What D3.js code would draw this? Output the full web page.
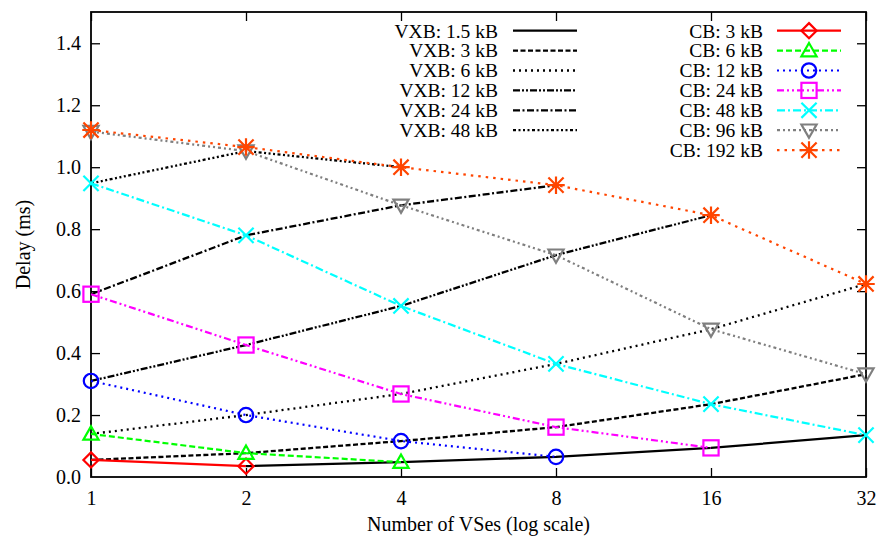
<!DOCTYPE html>
<html>
<head>
<meta charset="utf-8">
<script src="https://cdn.jsdelivr.net/npm/d3@7"></script>
<style>
  html, body { margin: 0; padding: 0; background: #fff; }
  svg { display: block; }
  text { font-family: "Liberation Serif", "Times New Roman", serif; fill: #000; }
</style>
</head>
<body>
<svg id="chart" width="879" height="540"></svg>
<script>
// Number of VSes (x axis, log2)
const vses = [1, 2, 4, 8, 16, 32];
const xTickValues = [1, 2, 4, 8, 16, 32];
const yTickValues = [0, 0.2, 0.4, 0.6, 0.8, 1.0, 1.2, 1.4];

// VXB delay (ms) per VS count; null = not measured
const vxbNames = ["VXB: 1.5 kB", "VXB: 3 kB", "VXB: 6 kB", "VXB: 12 kB", "VXB: 24 kB", "VXB: 48 kB"];
const vxb1_5 = [null, 0.035, 0.048, 0.065, 0.094, 0.135];
const vxb3   = [0.055, 0.077, 0.116, 0.161, 0.235, 0.332];
const vxb6   = [0.139, 0.200, 0.268, 0.365, 0.477, 0.623];
const vxb12  = [0.310, 0.426, 0.552, 0.716, 0.845, null];
const vxb24  = [0.590, 0.780, 0.877, 0.942, null, null];
const vxb48  = [0.948, 1.052, 1.000, null, null, null];

// CB delay (ms) per VS count
const cbNames = ["CB: 3 kB", "CB: 6 kB", "CB: 12 kB", "CB: 24 kB", "CB: 48 kB", "CB: 96 kB", "CB: 192 kB"];
const cb3   = [0.055, 0.035, null, null, null, null];
const cb6   = [0.139, 0.077, 0.048, null, null, null];
const cb12  = [0.310, 0.200, 0.116, 0.065, null, null];
const cb24  = [0.590, 0.426, 0.268, 0.161, 0.094, null];
const cb48  = [0.948, 0.780, 0.552, 0.365, 0.235, 0.135];
const cb96  = [1.115, 1.052, 0.877, 0.716, 0.477, 0.332];
const cb192 = [1.120, 1.065, 1.000, 0.942, 0.845, 0.623];

const vxbValues = [vxb1_5, vxb3, vxb6, vxb12, vxb24, vxb48];
const cbValues = [cb3, cb6, cb12, cb24, cb48, cb96, cb192];

// Line styles
const vxbDash = [null, "5,2.5", "2,4", "7,2,2,2,2,2", "7,2.5,2,2.5", "3,2.5,2,2.5,2,2.5,2,2.5"];
const cbColor = ["#ff0000", "#00ff00", "#0000ff", "#ff00ff", "#00ffff", "#7f7f7f", "#ff4500"];
const cbDash  = [null, "6,3", "2,4", "7,3,2,3,2,3", "8,3,2,3", "3,3,2,3,2,3", "2.5,5"];
const cbMarker = ["diamond", "triangle", "circle", "square", "cross", "triangleDown", "asterisk"];

const margin = { left: 91, right: 13, top: 12, bottom: 63 };
const W = 879, H = 540;
const svg = d3.select("#chart");

const x = d3.scaleLog().base(2).domain([1, 32]).range([margin.left, W - margin.right]);
const y = d3.scaleLinear().domain([0, 1.5]).range([H - margin.bottom, margin.top + 0.3]);

const x0 = x.range()[0], x1 = x.range()[1];
const y0 = y.range()[0], y1 = y.range()[1] - 0.3;
const FS = 19.5;
const FS_AX = 20;
const tickLen = 9;

// Axes (ticks inward, mirrored on opposite sides)
const gx = svg.append("g").attr("transform", `translate(0,${y0})`)
  .call(d3.axisBottom(x).tickValues(xTickValues).tickFormat(d3.format("d")).tickSize(-tickLen).tickPadding(14));
const gxTop = svg.append("g").attr("transform", `translate(0,${y1})`)
  .call(d3.axisTop(x).tickValues(xTickValues).tickFormat("").tickSize(-tickLen));
const gy = svg.append("g").attr("transform", `translate(${x0},0)`)
  .call(d3.axisLeft(y).tickValues(yTickValues).tickFormat(d3.format(".1f")).tickSize(-tickLen).tickPadding(10));
const gyRight = svg.append("g").attr("transform", `translate(${x1},0)`)
  .call(d3.axisRight(y).tickValues(yTickValues).tickFormat("").tickSize(-tickLen));

[gx, gxTop, gy, gyRight].forEach(g => {
  g.select(".domain").remove();
  g.selectAll(".tick line").attr("stroke", "#000").attr("stroke-width", 1.3);
  g.selectAll(".tick text").attr("font-size", FS_AX).attr("font-family", "Liberation Serif").attr("fill", "#000");
});
gx.selectAll(".tick text").attr("dy", "0.71em");
// drop tick marks at the frame corners
gy.selectAll(".tick").filter(d => d === 0).select("line").remove();
gyRight.selectAll(".tick").filter(d => d === 0).select("line").remove();

// Frame
svg.append("rect")
  .attr("x", x0).attr("y", y1).attr("width", x1 - x0).attr("height", y0 - y1)
  .attr("fill", "none").attr("stroke", "#000").attr("stroke-width", 1.8);

// Axis titles
svg.append("text")
  .attr("transform", `translate(23,${(y0 + y1) / 2}) rotate(-90)`)
  .attr("text-anchor", "middle").attr("dy", "0.35em")
  .attr("font-size", FS_AX).text("Delay (ms)");
svg.append("text")
  .attr("x", (x0 + x1) / 2).attr("y", 524)
  .attr("text-anchor", "middle").attr("dy", "0.35em")
  .attr("font-size", FS_AX).text("Number of VSes (log scale)");

const line = d3.line()
  .defined(d => d.v !== null)
  .x(d => x(d.n))
  .y(d => y(d.v));

const toPoints = arr => arr.map((v, i) => ({ n: vses[i], v }));

// Marker shapes
function drawMarker(g, type, cx, cy, color) {
  const s = 7.6;
  const st = { fill: "none", stroke: color, "stroke-width": 2.2 };
  let el;
  switch (type) {
    case "diamond":
      el = g.append("path").attr("d", `M${cx},${cy - s}L${cx + s},${cy}L${cx},${cy + s}L${cx - s},${cy}Z`);
      break;
    case "triangle":
      el = g.append("path").attr("d", `M${cx},${cy - s}L${cx + s},${cy + s * 0.75}L${cx - s},${cy + s * 0.75}Z`);
      break;
    case "triangleDown":
      el = g.append("path").attr("d", `M${cx},${cy + s}L${cx + s},${cy - s * 0.75}L${cx - s},${cy - s * 0.75}Z`);
      break;
    case "circle":
      el = g.append("circle").attr("cx", cx).attr("cy", cy).attr("r", s * 0.95);
      break;
    case "square":
      el = g.append("rect").attr("x", cx - s).attr("y", cy - s).attr("width", 2 * s).attr("height", 2 * s);
      break;
    case "cross":
      el = g.append("path").attr("d", `M${cx - s},${cy - s}L${cx + s},${cy + s}M${cx - s},${cy + s}L${cx + s},${cy - s}`);
      break;
    case "asterisk":
      el = g.append("path").attr("d",
        `M${cx - s},${cy - s}L${cx + s},${cy + s}M${cx - s},${cy + s}L${cx + s},${cy - s}` +
        `M${cx},${cy - s * 1.15}L${cx},${cy + s * 1.15}M${cx - s * 1.15},${cy}L${cx + s * 1.15},${cy}`);
      break;
  }
  Object.entries(st).forEach(([k, v]) => el.attr(k, v));
}

const plot = svg.append("g");

// VXB curves (black, no markers)
vxbValues.forEach((vals, i) => {
  const p = plot.append("path")
    .datum(toPoints(vals))
    .attr("d", line)
    .attr("fill", "none").attr("stroke", "#000").attr("stroke-width", 2.3);
  if (vxbDash[i]) p.attr("stroke-dasharray", vxbDash[i]);
});

// CB curves (colored, with markers)
cbValues.forEach((vals, i) => {
  const g = plot.append("g");
  const p = g.append("path")
    .datum(toPoints(vals))
    .attr("d", line)
    .attr("fill", "none").attr("stroke", cbColor[i]).attr("stroke-width", 2.2);
  if (cbDash[i]) p.attr("stroke-dasharray", cbDash[i]);
  toPoints(vals).filter(d => d.v !== null).forEach(d => drawMarker(g, cbMarker[i], x(d.n), y(d.v), cbColor[i]));
});

// Legends
const rowH = 19.9, legTop = 30.7;
const legL = svg.append("g");
vxbNames.forEach((name, i) => {
  const ry = legTop + i * rowH;
  legL.append("text").attr("x", 498).attr("y", ry).attr("dy", "0.35em")
    .attr("text-anchor", "end").attr("font-size", FS).text(name);
  const l = legL.append("line").attr("x1", 513).attr("x2", 577).attr("y1", ry).attr("y2", ry)
    .attr("stroke", "#000").attr("stroke-width", 2.3);
  if (vxbDash[i]) l.attr("stroke-dasharray", vxbDash[i]);
});
const legR = svg.append("g");
cbNames.forEach((name, i) => {
  const ry = legTop + i * rowH;
  legR.append("text").attr("x", 763).attr("y", ry).attr("dy", "0.35em")
    .attr("text-anchor", "end").attr("font-size", FS).text(name);
  const l = legR.append("line").attr("x1", 777).attr("x2", 841).attr("y1", ry).attr("y2", ry)
    .attr("stroke", cbColor[i]).attr("stroke-width", 2.2);
  if (cbDash[i]) l.attr("stroke-dasharray", cbDash[i]);
  drawMarker(legR, cbMarker[i], 809, ry, cbColor[i]);
});
</script>
</body>
</html>
